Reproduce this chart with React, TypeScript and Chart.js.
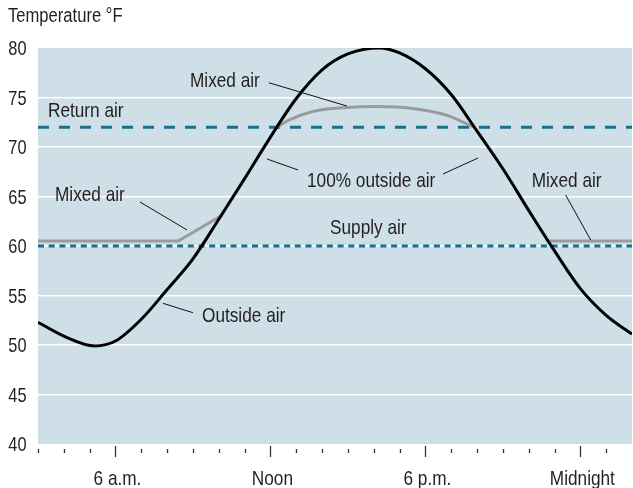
import React, { useEffect, useRef } from "react";
import { Chart, registerables } from "chart.js";

Chart.register(...registerables);

// ---- data ----
const hours = [3, 4, 5.2, 6, 7, 8, 9, 10, 11, 12, 13, 14, 15, 16.2, 17, 18, 19, 20, 21, 22, 23, 24, 25, 26];
const outsideAir = [52.3, 50.9, 49.9, 50.4, 52.6, 55.6, 58.7, 62.7, 66.8, 71.0, 74.9, 77.8, 79.4, 80.0, 79.5, 77.9, 75.3, 71.6, 67.8, 63.6, 59.5, 55.7, 53.0, 51.1];

const mixedLeftHours = [3, 8.43, 10.13];
const mixedLeftValues = [60.5, 60.5, 63.1];
const mixedArcHours = [12.26, 12.7, 13.66, 15, 16.1, 17.5, 18.85, 19.87];
const mixedArcValues = [72.0, 72.7, 73.6, 74.0, 74.1, 73.9, 73.2, 72.0];
const mixedRightHours = [22.74, 26];
const mixedRightValues = [60.5, 60.5];

const refHours = [3, 26];
const returnAir = 72;
const supplyAir = 60;

const majorTickHours = [6, 12, 18, 24];
const tickLabels = ["6 a.m.", "Noon", "6 p.m.", "Midnight"];
const yTitle = "Temperature °F";

// annotations: text anchored at (hour, °F) — left edge / alphabetic baseline
const textLabels = [
  { text: "Return air", x: 3.387, y: 73.03 },
  { text: "Mixed air", x: 8.885, y: 76.09 },
  { text: "100% outside air", x: 13.416, y: 65.96 },
  { text: "Mixed air", x: 3.658, y: 64.55 },
  { text: "Supply air", x: 14.306, y: 61.21 },
  { text: "Outside air", x: 9.35, y: 52.35 },
  { text: "Mixed air", x: 22.116, y: 65.99 },
];
const leaderLines = [
  [11.94, 76.49, 14.96, 74.14],
  [11.867, 68.79, 13.067, 67.68],
  [18.68, 67.27, 20.04, 68.89],
  [6.95, 64.44, 8.77, 61.62],
  [7.84, 54.21, 9.0, 53.26],
  [23.43, 65.15, 24.4, 60.61],
];

const FONT = "'Liberation Sans', Arial, sans-serif";
const TEAL = "#17708f";
const TEXT = "#231f20";

const zip = (xs: number[], ys: number[]) => xs.map((x, i) => ({ x, y: ys[i] }));

// condensed text: regular sans squeezed horizontally
function drawText(ctx: CanvasRenderingContext2D, text: string, x: number, y: number, size: number, sx: number, align: CanvasTextAlign = "left") {
  ctx.save();
  ctx.translate(x, y);
  ctx.scale(sx, 1);
  ctx.font = `${size}px ${FONT}`;
  ctx.fillStyle = TEXT;
  ctx.textAlign = align;
  ctx.textBaseline = "alphabetic";
  ctx.fillText(text, 0, 0);
  ctx.restore();
}

const decorPlugin = {
  id: "decor",
  beforeDraw(chart: any) {
    const { ctx, chartArea: a } = chart;
    ctx.save();
    ctx.fillStyle = "#cfdfe7";
    ctx.fillRect(a.left, a.top, a.right - a.left, a.bottom - a.top);
    ctx.restore();
  },
  afterDatasetsDraw(chart: any) {
    const { ctx } = chart;
    const xs = chart.scales.x;
    const ys = chart.scales.y;
    ctx.save();
    ctx.strokeStyle = "#111";
    ctx.lineWidth = 1;
    leaderLines.forEach(([x1, y1, x2, y2]) => {
      ctx.beginPath();
      ctx.moveTo(xs.getPixelForValue(x1), ys.getPixelForValue(y1));
      ctx.lineTo(xs.getPixelForValue(x2), ys.getPixelForValue(y2));
      ctx.stroke();
    });
    ctx.restore();
    textLabels.forEach((l) => {
      drawText(ctx, l.text, xs.getPixelForValue(l.x), ys.getPixelForValue(l.y), 21, 0.82);
    });
  },
  afterDraw(chart: any) {
    const { ctx, chartArea: a } = chart;
    const xs = chart.scales.x;
    const ys = chart.scales.y;
    ctx.save();
    ctx.strokeStyle = "#333";
    ctx.lineWidth = 1.3;
    const minH = Math.ceil(xs.min);
    const maxH = Math.floor(xs.max - 0.5);
    for (let h = minH; h <= maxH; h++) {
      const major = majorTickHours.includes(h);
      const px = Math.round(xs.getPixelForValue(h)) + 0.5;
      ctx.beginPath();
      ctx.moveTo(px, a.bottom + (major ? 2 : 5));
      ctx.lineTo(px, a.bottom + (major ? 13 : 9));
      ctx.stroke();
    }
    ctx.restore();
    // x tick labels from the axis ticks
    xs.ticks.forEach((t: any) => {
      const i = majorTickHours.indexOf(t.value);
      if (i >= 0) drawText(ctx, tickLabels[i], xs.getPixelForValue(t.value) + 2, 485, 21, 0.82, "center");
    });
    // y tick labels from the axis ticks
    ys.ticks.forEach((t: any) => {
      drawText(ctx, String(t.value), a.left - 11.5, ys.getPixelForValue(t.value) + 7, 21, 0.78, "right");
    });
    drawText(ctx, yTitle, 8, 22, 20, 0.83);
  },
};

export default function App() {
  const ref = useRef<HTMLCanvasElement | null>(null);
  useEffect(() => {
    if (!ref.current) return;
    const chart = new Chart(ref.current, {
      type: "line",
      data: {
        datasets: [
          {
            label: "Outside air",
            data: zip(hours, outsideAir),
            borderColor: "#000",
            borderWidth: 3,
            pointRadius: 0,
            cubicInterpolationMode: "monotone",
            fill: false,
          },
          {
            label: "Mixed air (arc)",
            data: zip(mixedArcHours, mixedArcValues),
            borderColor: "#9a9a9a",
            borderWidth: 3,
            pointRadius: 0,
            cubicInterpolationMode: "monotone",
            fill: false,
          },
          {
            label: "Mixed air (left)",
            data: zip(mixedLeftHours, mixedLeftValues),
            borderColor: "#9a9a9a",
            borderWidth: 3,
            pointRadius: 0,
            tension: 0,
            fill: false,
          },
          {
            label: "Mixed air (right)",
            data: zip(mixedRightHours, mixedRightValues),
            borderColor: "#9a9a9a",
            borderWidth: 3,
            pointRadius: 0,
            tension: 0,
            fill: false,
          },
          {
            label: "Return air",
            data: refHours.map((x) => ({ x, y: returnAir })),
            borderColor: TEAL,
            borderWidth: 3,
            borderDash: [11, 10],
            pointRadius: 0,
            fill: false,
          },
          {
            label: "Supply air",
            data: refHours.map((x) => ({ x, y: supplyAir })),
            borderColor: TEAL,
            borderWidth: 3,
            borderDash: [6, 4.7],
            pointRadius: 0,
            fill: false,
          },
        ],
      },
      options: {
        responsive: false,
        animation: false,
        devicePixelRatio: 1,
        layout: { padding: { top: 48, right: 1, left: 0, bottom: 0 } },
        plugins: { legend: { display: false }, tooltip: { enabled: false }, title: { display: false } },
        scales: {
          x: {
            type: "linear",
            min: 3,
            max: 26,
            afterBuildTicks: (axis: any) => {
              axis.ticks = majorTickHours.map((v) => ({ value: v }));
            },
            afterFit: (axis: any) => {
              axis.height = 44;
            },
            grid: { display: false, drawTicks: false },
            border: { display: false },
            ticks: { display: false },
          },
          y: {
            min: 40,
            max: 80,
            afterFit: (axis: any) => {
              axis.width = 38;
            },
            grid: {
              drawTicks: false,
              lineWidth: 1.5,
              color: (c: any) => (c.tick && (c.tick.value === 40 || c.tick.value === 80) ? "rgba(0,0,0,0)" : "#ffffff"),
            },
            border: { display: false },
            ticks: { display: false, stepSize: 5 },
          },
        },
      },
      plugins: [decorPlugin],
    } as any);
    return () => chart.destroy();
  }, []);
  return (
    <div style={{ position: "fixed", left: 0, top: 0, width: 633, height: 488 }}>
      <canvas ref={ref} width={633} height={488} />
    </div>
  );
}
